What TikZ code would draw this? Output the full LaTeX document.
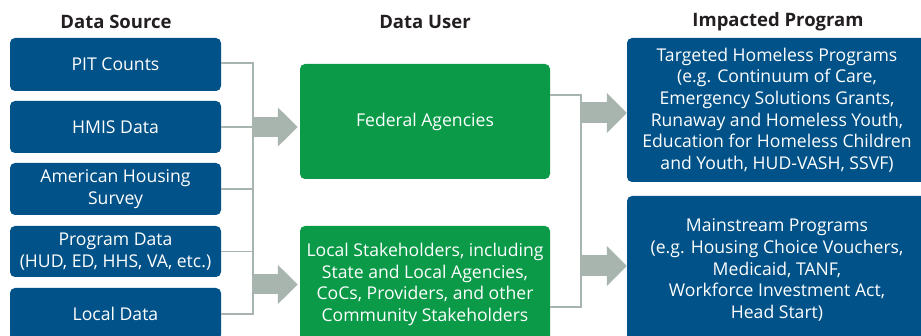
\documentclass[tikz,border=0pt]{standalone}
\usepackage{fontspec}
\setmainfont{Open Sans}
\usetikzlibrary{arrows.meta,calc}
\definecolor{srcblue}{HTML}{005288}
\definecolor{usegreen}{HTML}{0A9A48}
\definecolor{conngray}{HTML}{A8B5AE}
\definecolor{headtxt}{HTML}{231F20}
\tikzset{
  box/.style={rectangle, rounded corners=5pt, text=white, align=center,
    font=\fontsize{17.6}{21.7}\selectfont, inner sep=0pt},
  srcbox/.style={box, fill=srcblue, minimum width=211pt},
  userbox/.style={box, fill=usegreen, minimum width=250pt},
  progbox/.style={box, fill=srcblue, minimum width=300pt},
  header/.style={font=\fontsize{18.5}{22}\selectfont\bfseries, text=headtxt, inner sep=0pt},
  link/.style={draw=conngray, line width=1.5pt},
  bigarrow/.style={draw=conngray, line width=21pt, -{Triangle[length=20pt,width=39pt]}, fill=conngray}
}
\begin{document}
\begin{tikzpicture}[x=1pt,y=-1pt]
\useasboundingbox (0,0) rectangle (921,336);
\clip (0,0) rectangle (921,336);
% headers
\node[header] (h1) at (116,22) {Data Source};
\node[header] (h2) at (425,22) {Data User};
\node[header] (h3) at (778,22) {Impacted Program};
% sources
\node[srcbox, minimum height=53pt] (pit) at (115.5,64.5) {PIT Counts};
\node[srcbox, minimum height=52pt] (hmis) at (115.5,127) {HMIS Data};
\node[srcbox, minimum height=52pt] (ahs) at (115.5,189) {American Housing\\Survey};
\node[srcbox, minimum height=51pt] (prog) at (115.5,251.5) {Program Data\\(HUD, ED, HHS, VA, etc.)};
\node[srcbox, minimum height=52pt] (local) at (115.5,314) {Local Data};
% users
\node[userbox, minimum height=115pt] (fed) at (425,121.5) {Federal Agencies};
\node[userbox, minimum height=117pt] (stake) at (425,284.5) {Local Stakeholders, including\\State and Local Agencies,\\CoCs, Providers, and other\\Community Stakeholders};
% programs
\node[progbox, minimum height=144pt] (tgt) at (777,110) {Targeted Homeless Programs\\(e.g. Continuum of Care,\\Emergency Solutions Grants,\\Runaway and Homeless Youth,\\Education for Homeless Children\\and Youth, HUD-VASH, SSVF)};
\node[progbox, minimum height=148pt] (main) at (777,270) {Mainstream Programs\\(e.g. Housing Choice Vouchers,\\Medicaid, TANF,\\Workforce Investment Act,\\Head Start)};
% left bus
\coordinate (busL) at (253,0);
\coordinate (pitE) at ($(pit.east)+(0,-1.5)$);
\draw[link] (pitE) -- (pitE -| busL) -- (local.east -| busL) -- (local.east);
\draw[link] (hmis.east) -- (hmis.east -| busL);
\draw[link] (ahs.east) -- (ahs.east -| busL);
\draw[link] (prog.east) -- (prog.east -| busL);
\draw[bigarrow, line width=20pt, -{Triangle[length=20pt,width=38pt]}, shorten >=2pt] (hmis.east -| busL) -- (fed.west |- hmis.east);
\draw[bigarrow, line width=20pt, -{Triangle[length=20pt,width=38pt]}, shorten >=2pt] (stake.west -| busL) -- (stake.west);
% right bus
\coordinate (busR) at (581,0);
\coordinate (fedE) at ($(fed.north east)+(0,31)$);
\coordinate (stkE) at ($(stake.north east)+(0,81)$);
\draw[link] (fedE) -- (fedE -| busR) -- (stkE -| busR) -- (stkE);
\coordinate (ra1) at (581,113);
\coordinate (ra2) at (581,266);
\draw[bigarrow] (ra1) -- (tgt.west |- ra1);
\draw[bigarrow] (ra2) -- (main.west |- ra2);
\end{tikzpicture}
\end{document}
